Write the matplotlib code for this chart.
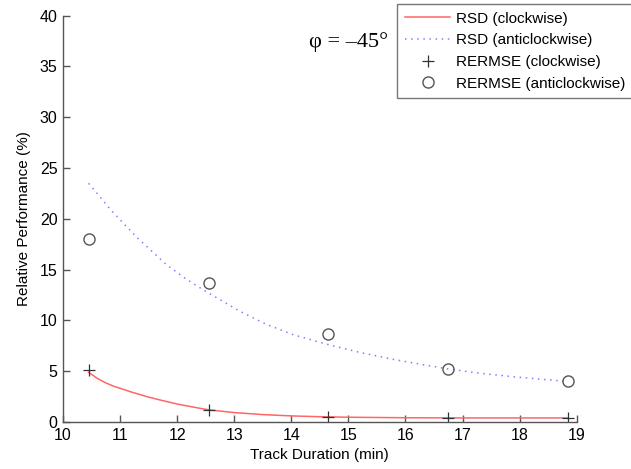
import numpy as np
import matplotlib
matplotlib.use("Agg")
import matplotlib.pyplot as plt

rsd_cw_x = [10.45, 10.6, 10.75, 10.9, 11.0, 11.2, 11.35, 11.5, 11.7, 12.0, 12.3, 12.55, 12.8, 13.0, 13.5, 14.0, 14.5, 15.0, 16.0, 17.0, 18.0, 18.85]
rsd_cw_y = [4.89, 4.3, 3.85, 3.5, 3.32, 2.95, 2.7, 2.45, 2.17, 1.77, 1.45, 1.2, 1.05, 0.93, 0.73, 0.6, 0.52, 0.47, 0.42, 0.40, 0.40, 0.40]

rsd_acw_x = [10.45, 10.85, 11.29, 11.82, 12.14, 12.46, 13.1, 13.55, 14.03, 14.66, 15.2, 15.8, 16.3, 16.72, 17.3, 17.9, 18.4, 18.85]
rsd_acw_y = [23.5, 20.8, 18.2, 15.45, 14.15, 13.0, 10.9, 9.65, 8.6, 7.6, 6.85, 6.15, 5.65, 5.25, 4.8, 4.45, 4.2, 4.0]

track_x = [10.45, 12.55, 14.65, 16.75, 18.85]
rermse_cw = [5.15, 1.15, 0.52, 0.43, 0.42]
rermse_acw = [18.05, 13.7, 8.7, 5.2, 4.0]

plt.rcParams['font.family'] = ['Liberation Sans', 'DejaVu Sans']

fig = plt.figure(figsize=(6.31, 4.69), dpi=100)
ax = fig.add_axes([0.0998, 0.1002, 0.8142, 0.8663])

ax.plot(rsd_cw_x, rsd_cw_y, color='#ff6666', lw=1.1, label='RSD (clockwise)')
ax.plot(rsd_acw_x, rsd_acw_y, color='#8080ff', lw=1.1, ls=(0, (1, 3)), label='RSD (anticlockwise)')
ax.plot(track_x, rermse_cw, ls='none', marker='+', ms=8, mew=0.9, color='#333333', label='RERMSE (clockwise)')
ax.plot(track_x, rermse_acw, ls='none', marker='o', ms=8, mew=1.0, mfc='none', mec='#555555', label='RERMSE (anticlockwise)')

ax.set_xlim(10, 19)
ax.set_ylim(0, 40)
ax.set_xticks(range(10, 20))
ax.set_yticks(range(0, 41, 5))
for s in ['top', 'right']:
    ax.spines[s].set_visible(False)
for s in ['left', 'bottom']:
    ax.spines[s].set_color('#555555')
    ax.spines[s].set_linewidth(1.0)
ax.tick_params(direction='in', length=5, width=1.0, color='#555555', labelsize=11.5, pad=4)
ax.set_xlabel('Track Duration (min)', fontsize=11, labelpad=4)
ax.set_ylabel('Relative Performance (%)', fontsize=11, labelpad=6)

ax.text(0.555, 0.935, 'φ = –45°', transform=ax.transAxes, fontsize=16,
        family=['Liberation Serif', 'DejaVu Serif'], ha='center', va='center')

leg = ax.legend(loc='upper left', bbox_to_anchor=(397 / 631, 1 - 4 / 469),
                bbox_transform=fig.transFigure, fontsize=11, fancybox=False,
                frameon=True, borderpad=0.5, labelspacing=0.5, handlelength=3.0,
                handletextpad=0.35, borderaxespad=0)
leg.get_frame().set_edgecolor('#555555')
leg.get_frame().set_linewidth(1.0)

fig.savefig('out.png', dpi=100)
